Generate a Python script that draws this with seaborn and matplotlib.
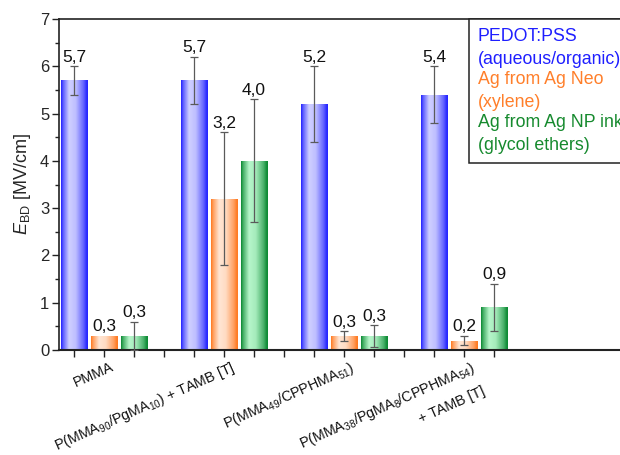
import numpy as np
import pandas as pd
import matplotlib
matplotlib.use("Agg")
import matplotlib.pyplot as plt
from matplotlib.lines import Line2D
from matplotlib.colors import to_rgb
from matplotlib.ticker import MultipleLocator
import seaborn as sns

# ---------------- data ----------------
groups = ["PMMA",
          "P(MMA$_{90}$/PgMA$_{10}$) + TAMB [T]",
          "P(MMA$_{49}$/CPPHMA$_{51}$)",
          "P(MMA$_{38}$/PgMA$_{8}$/CPPHMA$_{54}$)\n+ TAMB [T]"]
series = ["PEDOT:PSS\n(aqueous/organic)",
          "Ag from Ag Neo\n(xylene)",
          "Ag from Ag NP ink\n(glycol ethers)"]
pedot = [5.7, 5.7, 5.2, 5.4]
pedot_err = [0.3, 0.5, 0.8, 0.6]
agneo = [0.3, 3.2, 0.3, 0.2]
agneo_err = [0.0, 1.4, 0.1, 0.1]
agnp = [0.3, 4.0, 0.3, 0.9]
agnp_err = [0.3, 1.3, 0.23, 0.5]

dark_cols = ["#2424ff", "#ff7a22", "#0c8a34"]
light_cols = ["#cfcfff", "#ffe6d4", "#b6f6ca"]
text_cols = ["#1f1fff", "#ff7f2a", "#168a2e"]

values = [pedot, agneo, agnp]
errors = [pedot_err, agneo_err, agnp_err]

n_series = len(series)
slot_step = n_series + 1
n_slots = slot_step * len(groups) - 1
slots = [f"s{i}" for i in range(n_slots)]

rows = []
for gi, g in enumerate(groups):
    for si, s in enumerate(series):
        pos = gi * slot_step + si
        rows.append(dict(slot=slots[pos], pos=pos, group=g, series=s,
                         value=values[si][gi], err=errors[si][gi]))
df = pd.DataFrame(rows)

# ---------------- style ----------------
sns.set_style("ticks")
plt.rcParams["font.family"] = ["Liberation Sans", "DejaVu Sans"]
plt.rcParams["mathtext.fontset"] = "custom"
plt.rcParams["mathtext.rm"] = "Liberation Sans"
plt.rcParams["mathtext.it"] = "Liberation Sans:italic"
plt.rcParams["mathtext.bf"] = "Liberation Sans:bold"

fig = plt.figure(figsize=(6.2, 4.55), dpi=100)
ax = fig.add_axes([59 / 620, 105 / 455, 570 / 620, 331 / 455])

sns.barplot(data=df, x="slot", y="value", hue="series", order=slots,
            hue_order=series, palette=dark_cols, dodge=False, width=0.87,
            linewidth=0, errorbar=None, legend=False, ax=ax)

# gradient fill inside each bar
prof_t = [0.0, 0.08, 0.3, 0.55, 0.85, 0.95, 1.0]
prof_f = [0.0, 0.35, 1.0, 0.9, 0.35, 0.05, 0.0]
t = np.linspace(0, 1, 64)
f = np.interp(t, prof_t, prof_f)
grads = []
for si in range(n_series):
    d = np.array(to_rgb(dark_cols[si]))
    l = np.array(to_rgb(light_cols[si]))
    grads.append((d[None, :] * (1 - f[:, None]) + l[None, :] * f[:, None])[None, :, :])

for p in list(ax.patches):
    h = p.get_height()
    if not np.isfinite(h) or h <= 0:
        continue
    x0 = p.get_x(); w = p.get_width()
    fc = np.array(p.get_facecolor()[:3])
    si = int(np.argmin([np.sum((fc - np.array(to_rgb(c))) ** 2) for c in dark_cols]))
    im = ax.imshow(grads[si], extent=(x0, x0 + w, 0, h), aspect="auto",
                   origin="lower", interpolation="bilinear", zorder=p.get_zorder() + 0.1)
    im.set_clip_path(p)

# error bars and value labels
for _, r in df.iterrows():
    if r.err > 0:
        ax.errorbar(r.pos, r.value, yerr=r.err, fmt="none", ecolor="#5a5a5a",
                    elinewidth=0.9, capsize=2.6, capthick=0.9, zorder=5)
    ax.annotate(f"{r.value:.1f}".replace(".", ","), xy=(r.pos, r.value + r.err),
                xytext=(0, 1.0), textcoords="offset points", ha="center",
                va="bottom", fontsize=12.5, color="#111111", zorder=6)

# axes
ax.set_xlim(-0.5, 18.5)
ax.set_ylim(0, 7)
ax.set_xticks(range(n_slots))
ax.set_xticklabels([""] * n_slots)
ax.set_xlabel("")
ax.yaxis.set_major_locator(MultipleLocator(1))
ax.yaxis.set_minor_locator(MultipleLocator(0.5))
ax.tick_params(axis="y", which="major", direction="out", length=5, width=1.0,
               labelsize=12, color="#222222", pad=2)
ax.tick_params(axis="y", which="minor", direction="out", length=3, width=1.0,
               color="#222222")
ax.tick_params(axis="x", which="major", direction="out", length=5, width=1.0,
               color="#222222")
for s in ["left", "bottom", "top", "right"]:
    ax.spines[s].set_visible(True)
    ax.spines[s].set_linewidth(1.2)
    ax.spines[s].set_color("#222222")
ax.spines["bottom"].set_linewidth(1.5)
ax.set_ylabel(r"$E_{\mathrm{BD}}$ [MV/cm]", fontsize=13, labelpad=5)

# category labels
for gi, g in enumerate(groups):
    center = gi * slot_step + (n_series - 1) / 2
    ax.annotate(g, xy=(center, 0), xycoords=("data", "axes fraction"),
                xytext=(4.5, -6.8), textcoords="offset points", rotation=24,
                rotation_mode="anchor", ha="right", va="top", fontsize=10.3,
                multialignment="right", linespacing=1.8, color="#111111")

# legend (text only)
handles = [Line2D([], [], linestyle="none") for _ in series]
leg = ax.legend(handles, series, loc="upper left", bbox_to_anchor=(0.719, 1.0),
                handlelength=0, handletextpad=0, labelcolor=text_cols,
                fontsize=12.8, frameon=True, fancybox=False, borderpad=0.5,
                labelspacing=0.15, borderaxespad=0)
for txt in leg.get_texts():
    txt.set_linespacing(1.48)
leg.get_frame().set_edgecolor("#222222")
leg.get_frame().set_linewidth(1.1)
leg.get_frame().set_alpha(1)

fig.savefig("out.png", dpi=100)
